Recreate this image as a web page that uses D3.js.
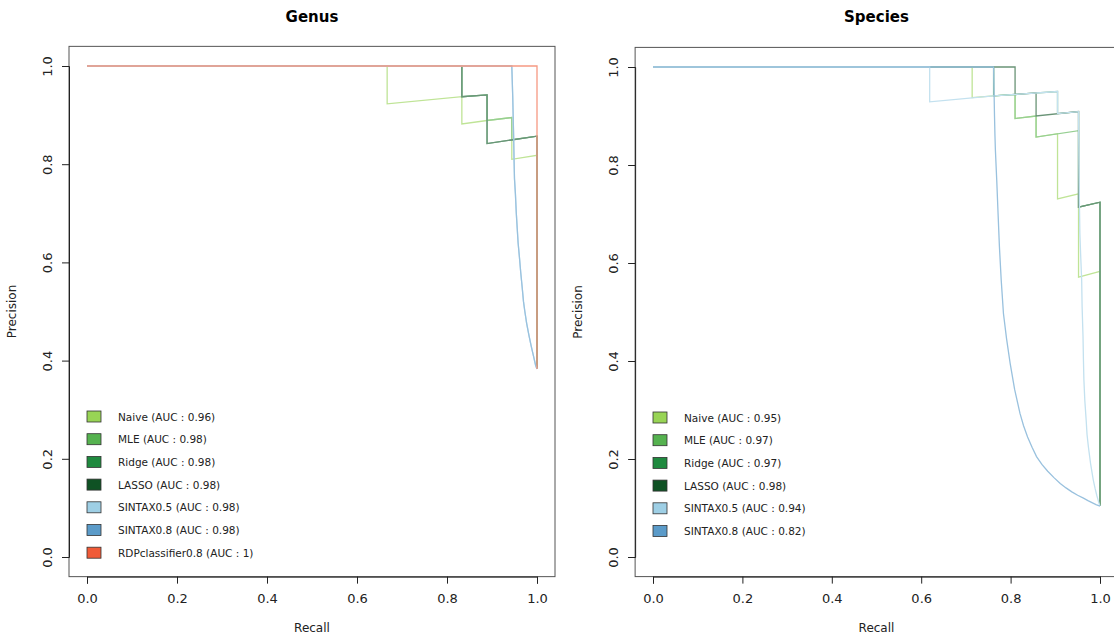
<!DOCTYPE html>
<html><head><meta charset="utf-8">
<script src="https://cdn.jsdelivr.net/npm/d3@7"></script>
<style>body{margin:0;background:#fff}svg{display:block}text{font-family:"DejaVu Sans",sans-serif}</style>
</head><body>
<svg id="c" width="1114" height="634"></svg>
<script>
// ---------- data ----------
const methods = ["Naive","MLE","Ridge","LASSO","SINTAX0.5","SINTAX0.8","RDPclassifier0.8"];
const colors  = ["#98d455","#55b24f","#1f8a3f","#0f5224","#9ecfe5","#5b9bc9","#f05a37"];
const xTicks = [0,0.2,0.4,0.6,0.8,1.0];
const yTicks = [0,0.2,0.4,0.6,0.8,1.0];

const genusAUC = ["0.96","0.98","0.98","0.98","0.98","0.98","1"];
const speciesAUC = ["0.95","0.97","0.97","0.98","0.94","0.82"];

// [recall, precision] points
const genusNaive = [[0,1],[0.667,1],[0.667,0.923],[0.833,0.9375],[0.833,0.882],[0.889,0.889],[0.944,0.895],[0.944,0.81],[1,0.818],[1,0.383]];
const genusMLE   = [[0,1],[0.833,1],[0.833,0.9375],[0.889,0.941],[0.889,0.889],[0.944,0.895],[0.944,0.85],[1,0.857],[1,0.383]];
const genusRidge = [[0,1],[0.833,1],[0.833,0.9375],[0.889,0.941],[0.889,0.842],[1,0.857],[1,0.383]];
const genusLASSO = [[0,1],[0.833,1],[0.833,0.9375],[0.889,0.941],[0.889,0.842],[1,0.857],[1,0.383]];
const genusSintax05 = [[0,1],[0.944,1],[0.945,0.97],[0.946,0.94],[0.947,0.90],[0.948,0.86],[0.949,0.81],[0.950,0.77],[0.952,0.74],[0.954,0.70],[0.956,0.67],[0.958,0.64],[0.961,0.61],[0.964,0.578],[0.967,0.55],[0.970,0.52],[0.973,0.50],[0.977,0.476],[0.982,0.452],[0.987,0.43],[0.992,0.41],[0.997,0.39],[1,0.383]];
const genusSintax08 = [[0,1],[0.944,1],[0.945,0.97],[0.946,0.94],[0.947,0.90],[0.948,0.86],[0.949,0.81],[0.950,0.77],[0.952,0.74],[0.954,0.70],[0.956,0.67],[0.958,0.64],[0.961,0.61],[0.964,0.578],[0.967,0.55],[0.970,0.52],[0.973,0.50],[0.977,0.476],[0.982,0.452],[0.987,0.43],[0.992,0.41],[0.997,0.39],[1,0.383]];
const genusRDP = [[0,1],[1,1],[1,0.383]];

const speciesNaive = [[0,1],[0.714,1],[0.714,0.9375],[0.762,0.941],[0.81,0.944],[0.81,0.895],[0.857,0.9],[0.857,0.857],[0.905,0.864],[0.905,0.731],[0.952,0.741],[0.952,0.571],[1,0.583],[1,0.104]];
const speciesMLE   = [[0,1],[0.762,1],[0.762,0.941],[0.81,0.944],[0.81,0.895],[0.857,0.9],[0.857,0.857],[0.952,0.870],[0.952,0.714],[1,0.724],[1,0.104]];
const speciesRidge = [[0,1],[0.762,1],[0.762,0.941],[0.905,0.95],[0.905,0.905],[0.952,0.909],[0.952,0.714],[1,0.724],[1,0.104]];
const speciesLASSO = [[0,1],[0.81,1],[0.81,0.944],[0.857,0.947],[0.857,0.9],[0.952,0.909],[0.952,0.714],[1,0.724],[1,0.104]];
const speciesSintax05 = [[0,1],[0.619,1],[0.619,0.929],[0.762,0.941],[0.905,0.95],[0.905,0.905],[0.952,0.909],[0.953,0.80],[0.954,0.72],[0.955,0.66],[0.957,0.61],[0.959,0.565],[0.960,0.51],[0.962,0.45],[0.963,0.40],[0.964,0.361],[0.966,0.32],[0.969,0.28],[0.971,0.25],[0.974,0.225],[0.979,0.19],[0.985,0.157],[0.989,0.14],[0.993,0.125],[0.997,0.112],[1,0.104]];
const speciesSintax08 = [[0,1],[0.762,1],[0.763,0.95],[0.764,0.9],[0.765,0.86],[0.766,0.83],[0.769,0.769],[0.772,0.70],[0.775,0.633],[0.779,0.565],[0.784,0.497],[0.791,0.445],[0.799,0.395],[0.809,0.342],[0.821,0.293],[0.829,0.268],[0.838,0.245],[0.848,0.224],[0.858,0.205],[0.870,0.189],[0.883,0.175],[0.897,0.162],[0.911,0.150],[0.924,0.141],[0.937,0.133],[0.950,0.126],[0.963,0.120],[0.973,0.115],[0.982,0.111],[0.991,0.107],[1,0.104]];

const genusSeries = [genusNaive,genusMLE,genusRidge,genusLASSO,genusSintax05,genusSintax08,genusRDP];
const speciesSeries = [speciesNaive,speciesMLE,speciesRidge,speciesLASSO,speciesSintax05,speciesSintax08];

// ---------- drawing ----------
const svg = d3.select("#c");

function panel(cfg){
  const x = d3.scaleLinear().domain([0,1]).range([cfg.x0,cfg.x1]);
  const y = d3.scaleLinear().domain([0,1]).range([cfg.y0,cfg.y1]);
  const g = svg.append("g");
  const line = d3.line().x(d=>x(d[0])).y(d=>y(d[1]));
  cfg.series.forEach((s,i)=>{
    g.append("path").attr("d",line(s)).attr("fill","none")
     .attr("stroke",d3.interpolateRgb(colors[i],"#ffffff")(0.38)).attr("stroke-width",1.3);
  });
  const bx0=x(-0.04), bx1=x(1.04), by0=y(-0.04), by1=y(1.04);
  g.append("rect").attr("x",bx0).attr("y",by1).attr("width",bx1-bx0).attr("height",by0-by1)
   .attr("fill","none").attr("stroke","#555").attr("stroke-width",1);
  const xa = g.append("g").attr("transform",`translate(0,${by0})`)
    .call(d3.axisBottom(x).tickValues(xTicks).tickFormat(d3.format(".1f")).tickSizeOuter(0).tickSize(7).tickPadding(10));
  const ya = g.append("g").attr("transform",`translate(${bx0},0)`)
    .call(d3.axisLeft(y).tickValues(yTicks).tickFormat(d3.format(".1f")).tickSizeOuter(0).tickSize(7));
  [xa,ya].forEach(a=>{
    a.select(".domain").attr("stroke","#222");
    a.selectAll(".tick line").attr("stroke","#222");
    a.selectAll("text").attr("font-size",13).attr("fill","#222");
  });
  ya.selectAll(".tick text").attr("text-anchor","middle").attr("x",0)
    .attr("transform","translate(-22,0) rotate(-90)").attr("dy","0.35em");
  g.append("text").attr("x",(bx0+bx1)/2).attr("y",22).attr("text-anchor","middle")
   .attr("font-weight","bold").attr("font-size",15).text(cfg.title);
  g.append("text").attr("x",(bx0+bx1)/2).attr("y",632).attr("text-anchor","middle")
   .attr("font-size",12).attr("fill","#222").text("Recall");
  g.append("text").attr("transform",`translate(${bx0-53},${(by0+by1)/2}) rotate(-90)`)
   .attr("text-anchor","middle").attr("font-size",12).attr("fill","#222").text("Precision");
  const lg = g.append("g");
  cfg.auc.forEach((a,i)=>{
    const cy = cfg.legY + i*22.7;
    lg.append("rect").attr("x",cfg.legX).attr("y",cy-6).attr("width",14).attr("height",11)
      .attr("fill",colors[i]).attr("stroke","#333").attr("stroke-width",0.8);
    lg.append("text").attr("x",cfg.legX+31).attr("y",cy).attr("dy","0.35em")
      .attr("font-size",10.5).attr("fill","#222").text(`${methods[i]} (AUC : ${a})`);
  });
}

panel({title:"Genus", x0:87, x1:537, y0:557, y1:66, series:genusSeries, auc:genusAUC, legX:87, legY:417});
panel({title:"Species", x0:653, x1:1100, y0:557, y1:67, series:speciesSeries, auc:speciesAUC, legX:653, legY:418});
</script>
</body></html>
